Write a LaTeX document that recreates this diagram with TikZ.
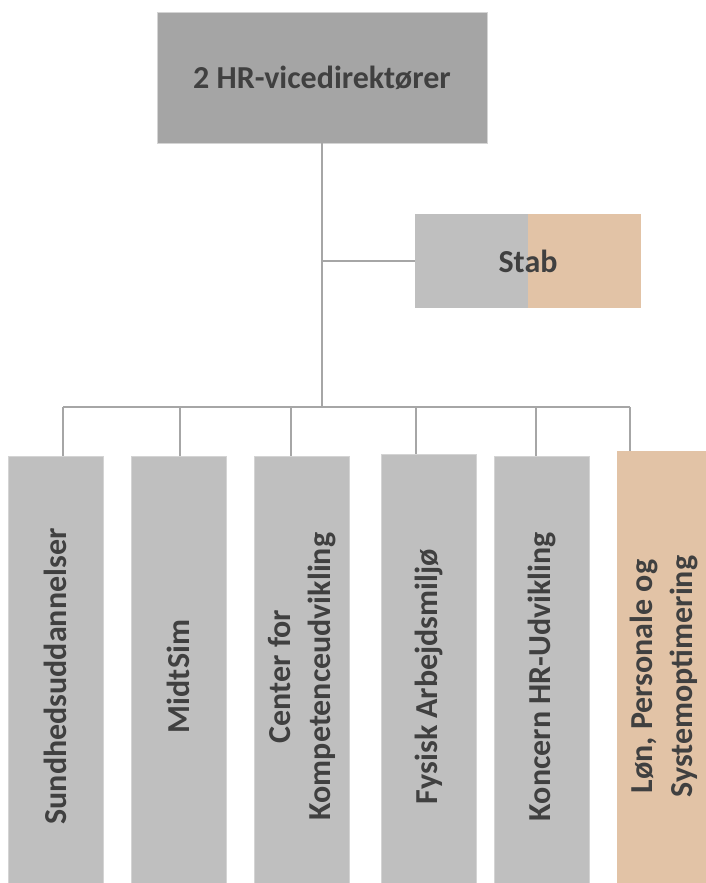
\documentclass[tikz,border=0pt]{standalone}
\usepackage{fontspec}
\setmainfont{Carlito}
\usepackage{graphicx}
\usepackage{tikz}
\usetikzlibrary{calc}
\definecolor{hrdark}{HTML}{A5A5A5}
\definecolor{hrlight}{HTML}{BFBFBF}
\definecolor{hrpeach}{HTML}{E2C3A6}
\definecolor{hrframe}{HTML}{D4D4D4}
\definecolor{hrline}{HTML}{A6A6A6}
\definecolor{hrtext}{HTML}{404040}

\begin{document}
\begin{tikzpicture}[x=1pt,y=-1pt,
  box/.style={draw=hrframe,line width=0.8pt,inner sep=0pt,text=hrtext,
    font=\bfseries\fontsize{32}{40}\selectfont},
  unit/.style={box,fill=hrlight,minimum width=95pt,minimum height=441pt},
  line/.style={draw=hrline,line width=1.2pt}]
\useasboundingbox (0,0) rectangle (706,883);
% ledelse og stab
\node[box,fill=hrdark,minimum width=330pt,minimum height=131pt] (top) at (322,77.5) {2 HR-vicedirektører};
\node[box,draw=none,fill=hrlight,minimum width=226pt,minimum height=94pt,
  path picture={\fill[hrpeach] (path picture bounding box.north) rectangle (path picture bounding box.south east);}] (stab) at (528,261) {Stab};
% enheder
\node[unit] (c1) at (55.5,676.5) {\rotatebox{90}{Sundhedsuddannelser}};
\node[unit] (c2) at (178.5,676.5) {\rotatebox{90}{MidtSim}};
\node[unit] (c3) at (302,676.5) {\rotatebox{90}{\begin{tabular}{@{}c@{}}Center for\\Kompetenceudvikling\end{tabular}}};
\node[unit,minimum height=445pt] (c4) at (428.5,676.5) {\rotatebox{90}{Fysisk Arbejdsmiljø}};
\node[unit] (c5) at (541.5,676.5) {\rotatebox{90}{Koncern HR-Udvikling}};
\node[unit,draw=none,fill=hrpeach,minimum height=451pt] (c6) at (664.5,676.5) {\rotatebox{90}{\begin{tabular}{@{}c@{}}Løn, Personale og\\Systemoptimering\end{tabular}}};
% linjer
\coordinate (bus) at (322,407);
\foreach \i/\x in {1/63,2/180,3/291,4/416,5/536,6/630}
  \coordinate (d\i) at (\x,407);
\draw[line] (top.south) -- (bus);
\draw[line] (stab.west -| top.south) -- (stab.west);
\draw[line] (d1) -- (d6);
\foreach \i in {1,...,6}
  \draw[line] (d\i) -- (d\i |- c\i.north);
\end{tikzpicture}
\end{document}
